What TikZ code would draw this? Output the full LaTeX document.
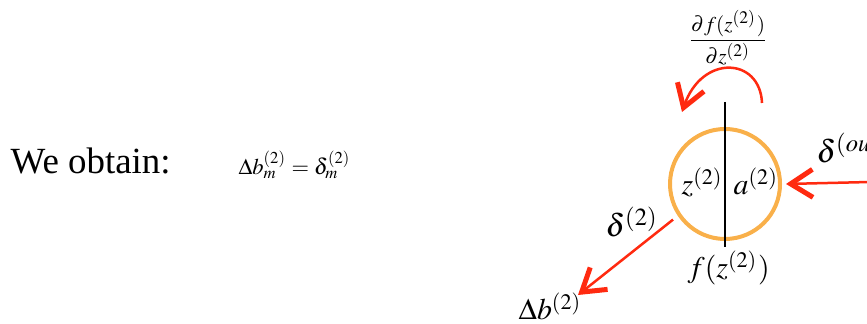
\documentclass[tikz,border=0pt]{standalone}
\usepackage{amsmath}
\usepackage{mathptmx}
\usepackage{fontspec}
\setmainfont{Liberation Serif}
\newfontfamily\timesfont{Liberation Serif}
\usepackage{xcolor}
\usetikzlibrary{arrows.meta, positioning}

\definecolor{neuronorange}{HTML}{F9B04A}
\definecolor{gradred}{HTML}{FF2A10}

\begin{document}
\begin{tikzpicture}[
  neuron/.style={circle, draw=neuronorange, line width=0.4mm, minimum size=1.1cm, inner sep=0pt},
  grad/.style={draw=gradred, line width=0.25mm, -{Straight Barb[length=2.2mm, width=2.8mm, line width=0.5mm]}},
  lbl/.style={font=\fontsize{8.5}{10}\selectfont, inner sep=0pt, anchor=base west},
  err/.style={font=\fontsize{9}{11}\selectfont, inner sep=0pt, anchor=base west}
]
  \useasboundingbox (0,0) rectangle (8.67,3.24);

  % left part: the result
  \node[anchor=base west, font=\timesfont\fontsize{10.5}{12}\selectfont, inner sep=0pt] (obtain) at (0.10,1.50) {We obtain:};
  \node[anchor=base west, font=\fontsize{6.4}{8}\selectfont, inner sep=0pt] (result) at (2.38,1.49)
    {$\Delta b^{(2)}_{m} = \delta^{(2)}_{m}$};

  % the neuron
  \node[neuron] (unit) at (7.25,1.40) {};
  \draw[line width=0.27mm] (7.25,2.22) -- (7.25,0.77);
  \node[lbl] (zin) at (6.81,1.29) {$z^{(2)}$};
  \node[lbl] (aout) at (7.33,1.29) {$a^{(2)}$};
  \node[lbl] (act) at (6.87,0.46) {$f(z^{(2)})$};

  % local derivative
  \node[font=\fontsize{6}{8}\selectfont, inner sep=0pt] (deriv) at (7.28,2.86)
    {$\dfrac{\partial f(z^{(2)})}{\partial z^{(2)}}$};
  \coordinate (loopstart) at (7.62,2.21);
  \coordinate (loopend) at (6.82,2.12);
  \draw[grad] (loopstart) .. controls (7.60,2.67) and (7.02,2.70) .. (loopend);

  % incoming error
  \coordinate (errin) at (8.70,1.42);
  \draw[grad] (errin) -- ([xshift=0.4mm]unit.east);
  \node[err] (dout) at (8.16,1.61) {$\delta^{(out)}$};

  % outgoing error
  \coordinate (errout) at (5.78,0.29);
  \draw[grad, shorten <=0.6mm] (unit.214) -- (errout);
  \node[err] (dtwo) at (6.05,0.87) {$\delta^{(2)}$};
  \node[lbl] (db) at (5.18,0.04) {$\Delta b^{(2)}$};
\end{tikzpicture}
\end{document}
